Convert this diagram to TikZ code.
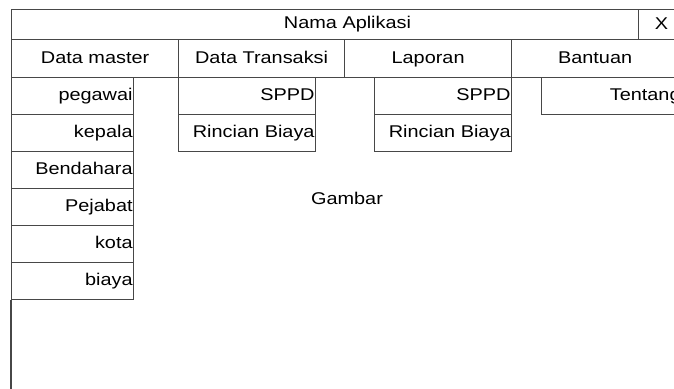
\documentclass[tikz,border=0pt]{standalone}
\usepackage{fontspec}
\setmainfont{Liberation Sans}[FakeStretch=1.17]
\tikzset{
  ln/.style={draw=black!72, line width=1.2pt},
  fnt/.style={font=\fontsize{17}{19}\selectfont, text height=12.5pt, text depth=3.6pt},
  cell/.style={ln, fnt, anchor=north west, minimum height=#1, inner sep=0pt},
  sub/.style={ln, fnt, anchor=north west, minimum height=37pt, inner xsep=1pt, inner ysep=0pt, align=right, text width=#1},
  txt/.style={fnt, inner sep=0pt}
}
\begin{document}
\begin{tikzpicture}[x=1pt,y=-1pt]
\useasboundingbox (0,0) rectangle (674,388);
\clip (0,0) rectangle (674,388);
% title bar
\node[cell=30pt, minimum width=673pt] (bar) at (11,9) {};
\node[cell=30pt, minimum width=46pt] (close) at (638,9) {X};
\node[txt] (title) at (347.5,24) {Nama Aplikasi};
% menu
\node[cell=38pt, minimum width=167pt] (m1) at (11,39) {Data master};
\node[cell=38pt, minimum width=166pt] (m2) at (178,39) {Data Transaksi};
\node[cell=38pt, minimum width=167pt] (m3) at (344,39) {Laporan};
\node[cell=38pt, minimum width=167pt] (m4) at (511,39) {Bantuan};
% data master submenu
\node[sub=120pt] (d1) at (11,77) {pegawai};
\node[sub=120pt] (d2) at (11,114) {kepala};
\node[sub=120pt] (d3) at (11,151) {Bendahara};
\node[sub=120pt] (d4) at (11,188) {Pejabat};
\node[sub=120pt] (d5) at (11,225) {kota};
\node[sub=120pt] (d6) at (11,262) {biaya};
% data transaksi submenu
\node[sub=135pt] (t1) at (178,77) {SPPD};
\node[sub=135pt] (t2) at (178,114) {Rincian Biaya};
% laporan submenu
\node[sub=135pt] (l1) at (374,77) {SPPD};
\node[sub=135pt] (l2) at (374,114) {Rincian Biaya};
% bantuan submenu
\node[sub=138pt] (b1) at (541,77) {Tentang};
% window left edge
\coordinate (bottom) at (11,390);
\draw[ln] (d6.south west) -- (bottom);
% content
\node[txt] (gambar) at (347,200) {Gambar};
\end{tikzpicture}
\end{document}
